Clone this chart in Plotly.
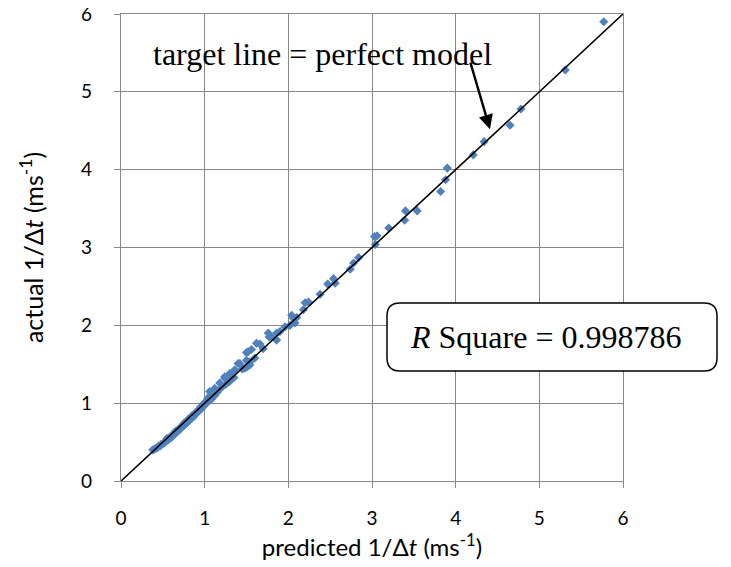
import plotly.graph_objects as go

# predicted vs actual 1/Δt (ms^-1)
predicted = [
    0.38, 0.40, 0.42, 0.44, 0.45, 0.47, 0.48, 0.50, 0.52, 0.53, 0.55, 0.57, 0.58, 0.60,
    0.62, 0.63, 0.65, 0.67, 0.68, 0.70, 0.72, 0.73, 0.75, 0.77, 0.78, 0.80, 0.82, 0.83,
    0.85, 0.87, 0.88, 0.90, 0.92, 0.93, 0.95, 0.97, 0.98, 1.00, 1.02, 1.03,
    0.55, 0.65, 0.75, 0.85, 0.95, 0.60, 0.70, 0.80, 0.90, 1.00,
    1.04, 1.06, 1.08, 1.05, 1.10, 1.08, 1.12, 1.10,
    1.06, 1.12, 1.18, 1.24, 1.30, 1.36, 1.42, 1.48, 1.51, 1.50, 1.56, 1.66, 1.77,
    1.60, 1.54, 1.62, 1.52, 1.40, 1.50, 1.54, 1.24, 1.15, 1.20, 1.25, 1.30, 1.35,
    1.45, 1.70, 1.76, 1.86, 1.80, 1.86, 1.90, 1.96, 2.02, 2.08, 2.06, 2.10, 2.04,
    2.18, 2.20, 2.24, 2.38, 2.47, 2.56, 2.54, 2.74, 2.78, 2.84, 3.04, 3.03, 3.06,
    3.20, 3.39, 3.40, 3.54, 3.82, 3.88, 3.90, 4.21, 4.34, 4.65, 4.78, 5.31, 5.77,
]
actual = [
    0.40, 0.41, 0.42, 0.43, 0.45, 0.45, 0.47, 0.48, 0.49, 0.51, 0.52, 0.53, 0.55, 0.56,
    0.58, 0.60, 0.61, 0.63, 0.65, 0.66, 0.68, 0.70, 0.71, 0.73, 0.75, 0.76, 0.78, 0.80,
    0.81, 0.83, 0.85, 0.87, 0.89, 0.90, 0.92, 0.94, 0.96, 0.98, 1.00, 1.02,
    0.55, 0.64, 0.74, 0.84, 0.95, 0.58, 0.68, 0.79, 0.89, 1.01,
    1.06, 1.09, 1.10, 1.03, 1.12, 1.05, 1.10, 1.15,
    1.15, 1.19, 1.26, 1.32, 1.38, 1.43, 1.51, 1.45, 1.47, 1.65, 1.69, 1.76, 1.85,
    1.58, 1.53, 1.77, 1.66, 1.51, 1.55, 1.49, 1.34, 1.14, 1.20, 1.24, 1.28, 1.33,
    1.44, 1.70, 1.90, 1.81, 1.85, 1.90, 1.92, 1.98, 2.00, 2.03, 2.09, 2.10, 2.13,
    2.20, 2.29, 2.30, 2.40, 2.53, 2.54, 2.60, 2.72, 2.80, 2.87, 3.04, 3.14, 3.15,
    3.25, 3.35, 3.47, 3.47, 3.72, 3.87, 4.02, 4.19, 4.36, 4.57, 4.78, 5.28, 5.90,
]
target_x = [0, 6]
target_y = [0, 6]
tick_vals = [0, 1, 2, 3, 4, 5, 6]
tick_text = ["0", "1", "2", "3", "4", "5", "6"]

fig = go.Figure()
fig.add_trace(go.Scatter(
    x=predicted, y=actual, mode="markers",
    marker=dict(symbol="diamond", size=7, color="#4F81BD", line=dict(width=0)),
    showlegend=False,
))
fig.add_trace(go.Scatter(
    x=target_x, y=target_y, mode="lines",
    line=dict(color="black", width=1.6), showlegend=False,
))

axis_common = dict(
    range=[0, 6], tickvals=tick_vals, ticktext=tick_text, automargin=False,
    ticklabeloverflow="allow",
    showgrid=True, gridcolor="#878787", gridwidth=1.3,
    showline=True, linecolor="#878787", linewidth=1.3, mirror=True,
    ticks="outside", ticklen=6, tickcolor="#878787", tickwidth=1.3,
    zeroline=False, tickfont=dict(family="Lato", size=19, color="black"),
)
fig.update_xaxes(**axis_common, ticklabelstandoff=14,
                 title=dict(text="predicted 1/Δ<i>t</i> (ms<sup>-1</sup>)",
                            font=dict(family="Lato", size=24, color="black"), standoff=3))
fig.update_yaxes(**axis_common, ticklabelstandoff=18,
                 title=dict(text="actual 1/Δ<i>t</i> (ms<sup>-1</sup>)",
                            font=dict(family="Lato", size=25, color="black"), standoff=30))

# plot area in screenshot pixels: x 121..623, y 14..481
W, H = 502.0, 467.0
def px2paper(px, py):
    return (px - 121) / W, (481 - py) / H
x0, y1 = px2paper(387, 303)
x1, y0 = px2paper(717, 371)
rx, ry = 13 / W, 13 / H
path = (f"M {x0+rx},{y1} L {x1-rx},{y1} Q {x1},{y1} {x1},{y1-ry} "
        f"L {x1},{y0+ry} Q {x1},{y0} {x1-rx},{y0} L {x0+rx},{y0} "
        f"Q {x0},{y0} {x0},{y0+ry} L {x0},{y1-ry} Q {x0},{y1} {x0+rx},{y1} Z")
fig.add_shape(type="path", path=path, xref="paper", yref="paper",
              line=dict(color="black", width=1.5), fillcolor="white", layer="above")

cx, cy = px2paper(545, 337)
fig.add_annotation(x=cx, y=cy, xref="paper", yref="paper", showarrow=False,
                   xanchor="center", yanchor="middle",
                   text="<i>R</i> Square = 0.998786",
                   font=dict(family="Liberation Serif", size=32, color="black"))
tx, ty = px2paper(322, 54)
fig.add_annotation(x=tx, y=ty, xref="paper", yref="paper", showarrow=False,
                   xanchor="center", yanchor="middle",
                   text="target line = perfect model",
                   font=dict(family="Liberation Serif", size=32, color="black"))
fig.add_annotation(x=4.41, y=4.52, xref="x", yref="y", text="", showarrow=True,
                   ax=-20, ay=-68, arrowhead=2, arrowsize=1.2, arrowwidth=2.4,
                   arrowcolor="black")

# body margin of the page offsets the figure by 8px
fig.update_layout(
    width=731, height=567,
    margin=dict(l=113, r=116, t=6, b=94),
    plot_bgcolor="white", paper_bgcolor="white",
)
fig.write_html("out.html")
